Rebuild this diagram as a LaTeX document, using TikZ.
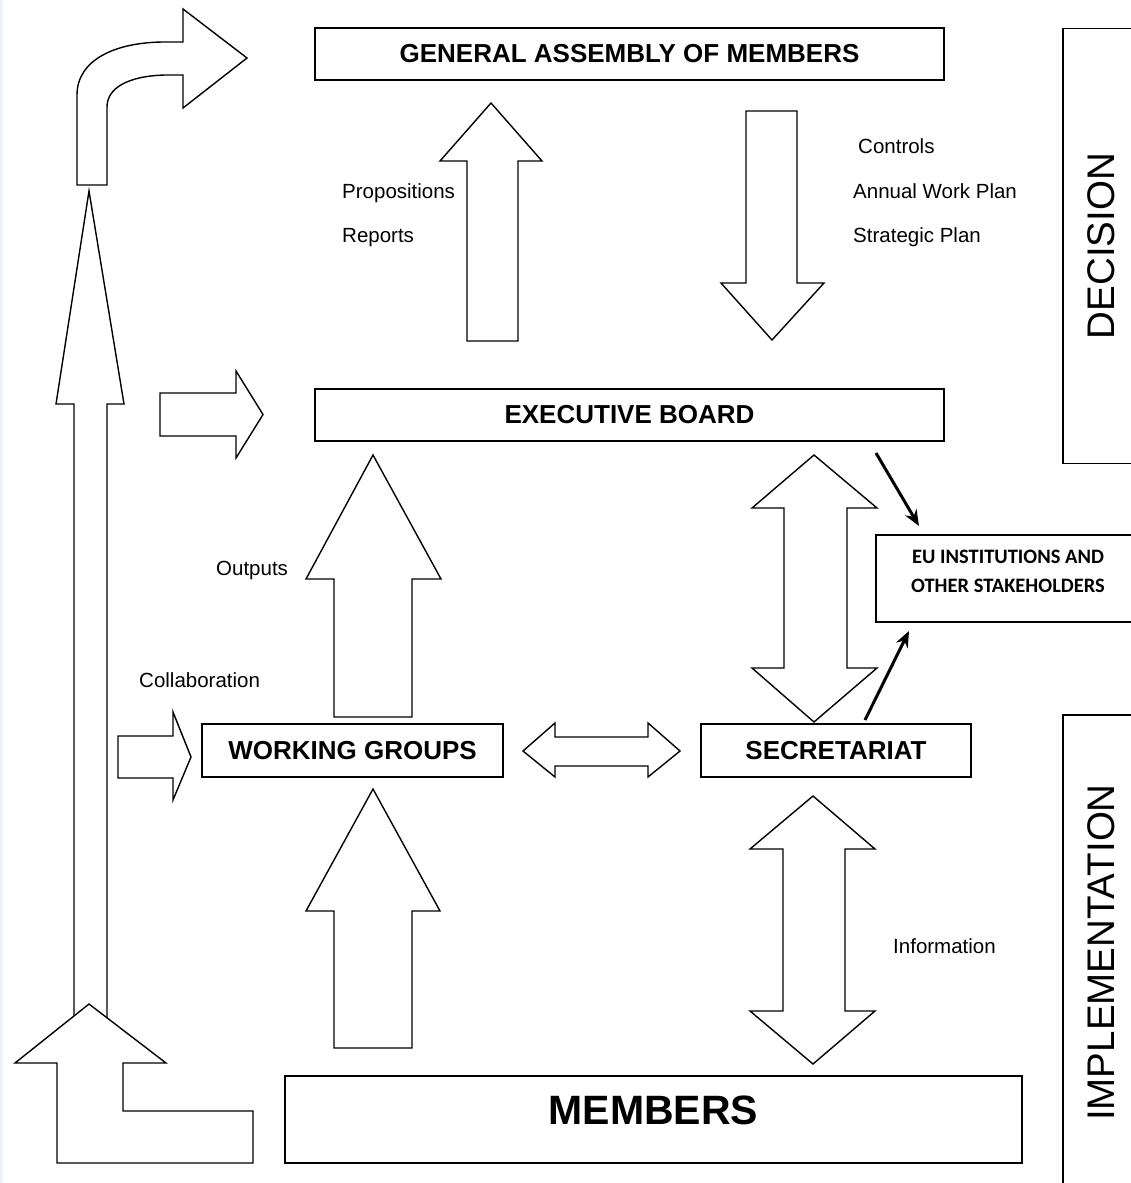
\documentclass[tikz,border=0pt]{standalone}
\usepackage{fontspec}
\setmainfont{Liberation Sans}
\newfontfamily\calib{Carlito}
\usetikzlibrary{arrows.meta}
\definecolor{edgeblue}{HTML}{EEF2FB}
\begin{document}
\begin{tikzpicture}[x=1pt,y=-1pt,
  outl/.style={draw=black, line width=1.4pt, fill=white, line join=miter},
  box/.style={draw=black, line width=1.4pt, fill=white, inner sep=0pt},
  lbl/.style={anchor=base west, inner sep=0pt, font=\fontsize{20.5}{24}\selectfont},
  ttl/.style={font=\bfseries\fontsize{26}{30}\selectfont},
  side/.style={font=\fontsize{38.5}{44}\selectfont},
  euarrow/.style={line width=3pt, -{Stealth[length=16pt,width=13pt]}}]
\useasboundingbox (0,0) rectangle (1131,1183);
\fill[white] (0,0) rectangle (1131,1183);
\fill[edgeblue] (0,0) rectangle (3,1183);

% side boxes
\node[box, side, minimum width=435pt, minimum height=77pt, rotate=90] (dec) at (1101.5,246) {DECISION};
\node[box, side, minimum width=475pt, minimum height=77pt, rotate=90] (imp) at (1101.5,952.5) {IMPLEMENTATION};

% main boxes
\node[box, ttl, minimum width=629pt, minimum height=52pt] (ga) at (629.5,54) {GENERAL ASSEMBLY OF MEMBERS};
\node[box, ttl, minimum width=629pt, minimum height=52pt] (eb) at (629.5,415) {EXECUTIVE BOARD};
\node[box, ttl, minimum width=301pt, minimum height=53pt] (wg) at (352.5,750.5) {WORKING GROUPS};
\node[box, ttl, minimum width=270pt, minimum height=53pt] (sec) at (836,750.5) {SECRETARIAT};
\node[box, minimum width=737pt, minimum height=87pt] (mem) at (653.5,1119.5) {};
\node[font=\bfseries\fontsize{41}{46}\selectfont, inner sep=0pt] (memtxt) at (653.5,1110) {MEMBERS};
\node[box, minimum width=264pt, minimum height=87pt] (eu) at (1008,578.5) {};
\node[font=\calib\bfseries\fontsize{20.5}{29}\selectfont, align=center, inner sep=0pt] (eutxt) at (1008,571.5) {EU INSTITUTIONS AND\\OTHER STAKEHOLDERS};

% curved arrow top-left
\draw[outl] (77,185) -- (77,95) .. controls (77,60) and (115,42) .. (165,42) -- (183,42) -- (183,9) -- (247,58) -- (183,108) -- (183,75) -- (165,75) .. controls (128,76) and (107,88) .. (107,107) -- (107,185) -- cycle;

% tall vertical arrow
\draw[outl] (89,191) -- (124,404) -- (107,404) -- (107,1030) -- (74,1030) -- (74,404) -- (56,404) -- cycle;
% bent arrow at the bottom left
\draw[outl] (89,1004) -- (166,1063) -- (123,1063) -- (123,1111) -- (253,1111) -- (253,1163) -- (57,1163) -- (57,1063) -- (15,1063) -- cycle;

% arrow to executive board
\draw[outl] (160,393) -- (236,393) -- (236,371) -- (263,414.5) -- (236,458) -- (236,436) -- (160,436) -- cycle;
% collaboration arrow
\draw[outl] (118,736) -- (173,736) -- (173,712) -- (191,757) -- (173,800) -- (173,778) -- (118,778) -- cycle;

% propositions / reports (up)
\draw[outl] (491,103) -- (542,161) -- (518,161) -- (518,341) -- (467,341) -- (467,161) -- (440,161) -- cycle;
% controls (down)
\draw[outl] (746,111) -- (797,111) -- (797,283) -- (824,283) -- (772,340) -- (721,283) -- (746,283) -- cycle;
% outputs (up)
\draw[outl] (373,455) -- (441,579) -- (412,579) -- (412,717) -- (334,717) -- (334,579) -- (306,579) -- cycle;
% members -> working groups (up)
\draw[outl] (373,789) -- (440,911) -- (412,911) -- (412,1048) -- (334,1048) -- (334,911) -- (306,911) -- cycle;
% executive board <-> secretariat
\draw[outl] (814,455) -- (877,508) -- (847,508) -- (847,668) -- (877,668) -- (814,722) -- (752,668) -- (784,668) -- (784,508) -- (752,508) -- cycle;
% secretariat <-> members
\draw[outl] (813,796) -- (875,849) -- (845,849) -- (845,1011) -- (875,1011) -- (813,1064) -- (750,1011) -- (783,1011) -- (783,849) -- (750,849) -- cycle;
% working groups <-> secretariat
\draw[outl] (523,751) -- (555,723) -- (555,737) -- (648,737) -- (648,723) -- (680,751) -- (648,777) -- (648,766) -- (555,766) -- (555,777) -- cycle;

% thin arrows to EU institutions
\coordinate (a1s) at (876,453);
\coordinate (a1e) at (919,526);
\coordinate (a2s) at (865,720);
\coordinate (a2e) at (909,631);
\draw[euarrow] (a1s) -- (a1e);
\draw[euarrow] (a2s) -- (a2e);

% labels
\node[lbl] (lctl) at (858,153) {Controls};
\node[lbl] (lawp) at (853,198) {Annual Work Plan};
\node[lbl] (lsp) at (853,242) {Strategic Plan};
\node[lbl] (lprop) at (342,198) {Propositions};
\node[lbl] (lrep) at (342,242) {Reports};
\node[lbl] (lout) at (216,575) {Outputs};
\node[lbl] (lcol) at (139,687) {Collaboration};
\node[lbl] (linf) at (893,953) {Information};
\end{tikzpicture}
\end{document}
